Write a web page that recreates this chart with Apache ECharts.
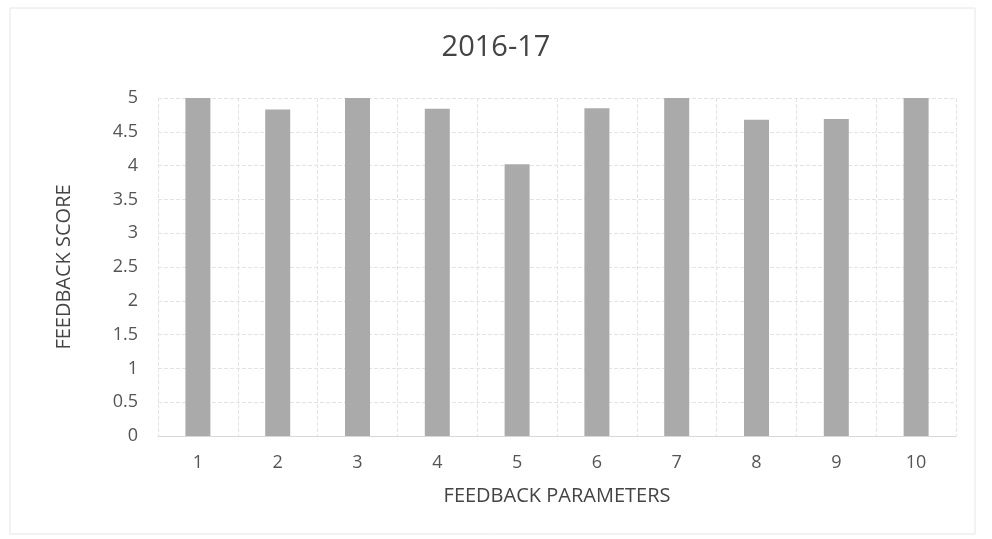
<!DOCTYPE html>
<html>
<head>
<meta charset="utf-8">
<script src="https://cdn.jsdelivr.net/npm/echarts@6/dist/echarts.min.js"></script>
<style>
  html, body { margin: 0; padding: 0; background: #fff; }
  #chart { width: 992px; height: 539px; }
</style>
</head>
<body>
<div id="chart"></div>
<script>
// data
const categories = ['1', '2', '3', '4', '5', '6', '7', '8', '9', '10'];
const scores = [5, 4.83, 5, 4.84, 4.02, 4.85, 5, 4.68, 4.69, 5];

const chart = echarts.init(document.getElementById('chart'));
const font = '"Open Sans", "Liberation Sans", sans-serif';

const option = {
  backgroundColor: '#fff',
  title: {
    text: '2016-17',
    left: 'center',
    top: 28,
    textStyle: { color: '#444', fontSize: 29, fontWeight: 'normal', fontFamily: font }
  },
  grid: {
    left: 158,
    right: 36,
    top: 98,
    bottom: 103
  },
  xAxis: {
    type: 'category',
    data: categories,
    name: 'FEEDBACK PARAMETERS',
    nameLocation: 'middle',
    nameGap: 50,
    nameTextStyle: { color: '#444', fontSize: 20, fontFamily: font },
    axisLine: { show: true, lineStyle: { color: '#d8d8d8' } },
    axisTick: { show: false },
    axisLabel: { color: '#555', fontSize: 18, margin: 18, fontFamily: font },
    splitLine: { show: true, lineStyle: { color: '#e4e4e4', type: 'dashed' } }
  },
  yAxis: {
    type: 'value',
    min: 0,
    max: 5,
    interval: 0.5,
    name: 'FEEDBACK SCORE',
    nameLocation: 'middle',
    nameGap: 84,
    nameTextStyle: { color: '#444', fontSize: 20, fontFamily: font },
    axisLine: { show: false },
    axisTick: { show: false },
    axisLabel: { color: '#555', fontSize: 18, margin: 20, fontFamily: font },
    splitLine: { show: true, lineStyle: { color: '#e4e4e4', type: 'dashed' } }
  },
  series: [
    {
      type: 'bar',
      data: scores,
      barWidth: 25,
      itemStyle: { color: '#aaaaaa' }
    }
  ],
  graphic: [
    {
      type: 'rect',
      shape: { x: 10, y: 8, width: 965, height: 526 },
      style: { fill: 'none', stroke: '#e6e6e6', lineWidth: 1 },
      silent: true
    }
  ]
};
chart.setOption(option);
</script>
</body>
</html>
